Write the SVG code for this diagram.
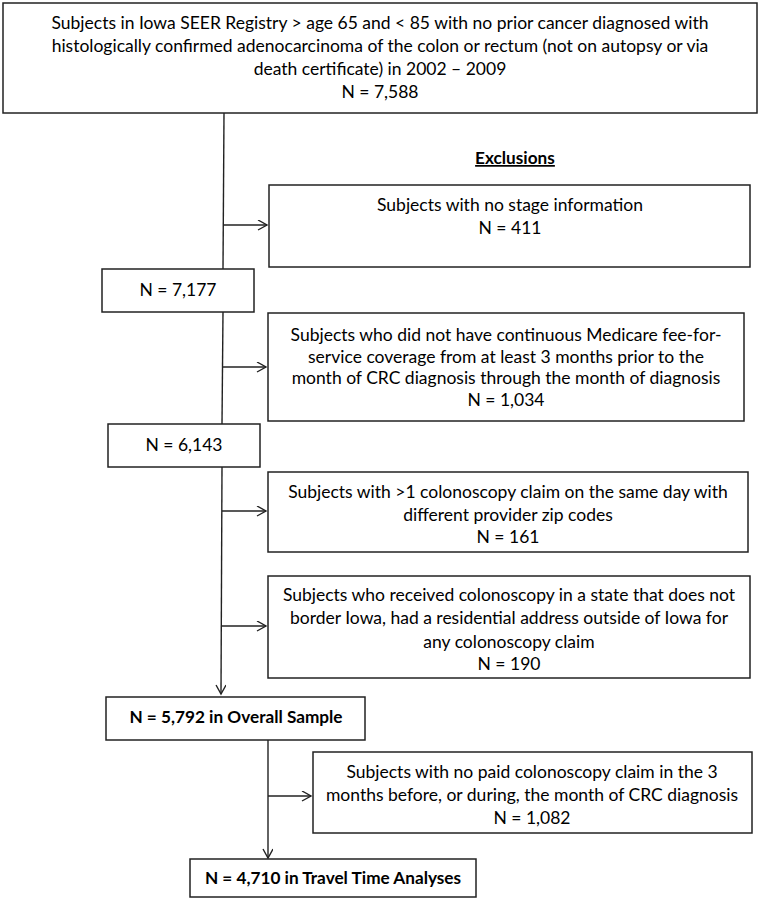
<svg xmlns="http://www.w3.org/2000/svg" width="759" height="900" viewBox="0 0 759 900">
<style>
.box{fill:#fff;stroke:#222;stroke-width:1.5}
.t{font-family:Lato,"Liberation Sans",sans-serif;font-size:17.5px;fill:#000;text-anchor:middle}
.b{font-weight:bold;font-size:17.2px}
.ln{stroke:#222;stroke-width:1.4;fill:none}
.ar{stroke:#222;stroke-width:1.4;fill:none;marker-end:url(#ah)}
</style>
<defs>
<marker id="ah" markerWidth="12" markerHeight="12" refX="10" refY="5" orient="auto" markerUnits="userSpaceOnUse">
<path d="M1,0 L10,5 L1,10" fill="none" stroke="#222" stroke-width="1.4"/>
</marker>
</defs>
<rect width="759" height="900" fill="#fff"/>
<g id="connectors">
<line class="ln" x1="224" y1="113" x2="223" y2="269"/>
<line class="ar" x1="223.5" y1="225" x2="267" y2="225"/>
<line class="ln" x1="223" y1="312" x2="222" y2="424"/>
<line class="ar" x1="223" y1="367" x2="266" y2="367"/>
<line class="ar" x1="222" y1="467" x2="221" y2="694"/>
<line class="ar" x1="222" y1="511" x2="266" y2="511"/>
<line class="ar" x1="221.5" y1="626" x2="266" y2="626"/>
<line class="ar" x1="268" y1="740" x2="268" y2="858"/>
<line class="ar" x1="268" y1="796" x2="311" y2="796"/>
</g>
<g id="n_start">
<rect class="box" x="3" y="3" width="754" height="110"/>
<text class="t" x="380" y="29">Subjects in Iowa SEER Registry &gt; age 65 and &lt; 85 with no prior cancer diagnosed with</text>
<text class="t" x="380" y="52">histologically confirmed adenocarcinoma of the colon or rectum (not on autopsy or via</text>
<text class="t" x="380" y="75">death certificate) in 2002 – 2009</text>
<text class="t" x="380" y="98">N = 7,588</text>
</g>
<g id="exclusions_label">
<text class="t b" x="515" y="164" text-decoration="underline">Exclusions</text>
</g>
<g id="x_stage">
<rect class="box" x="269" y="185" width="481" height="82"/>
<text class="t" x="510" y="211">Subjects with no stage information</text>
<text class="t" x="510" y="234">N = 411</text>
</g>
<g id="n_7177">
<rect class="box" x="102" y="269" width="152" height="43"/>
<text class="t" x="178" y="296">N = 7,177</text>
</g>
<g id="x_medicare">
<rect class="box" x="268" y="313" width="476" height="108"/>
<text class="t" x="506" y="341">Subjects who did not have continuous Medicare fee-for-</text>
<text class="t" x="506" y="363">service coverage from at least 3 months prior to the</text>
<text class="t" x="506" y="384">month of CRC diagnosis through the month of diagnosis</text>
<text class="t" x="506" y="406">N = 1,034</text>
</g>
<g id="n_6143">
<rect class="box" x="108" y="424" width="152" height="43"/>
<text class="t" x="184" y="451">N = 6,143</text>
</g>
<g id="x_zip">
<rect class="box" x="268" y="472" width="480" height="80"/>
<text class="t" x="508" y="498">Subjects with &gt;1 colonoscopy claim on the same day with</text>
<text class="t" x="508" y="521">different provider zip codes</text>
<text class="t" x="508" y="543">N = 161</text>
</g>
<g id="x_border">
<rect class="box" x="268" y="576" width="482" height="102"/>
<text class="t" x="509" y="601">Subjects who received colonoscopy in a state that does not</text>
<text class="t" x="509" y="624">border Iowa, had a residential address outside of Iowa for</text>
<text class="t" x="509" y="648">any colonoscopy claim</text>
<text class="t" x="509" y="670">N = 190</text>
</g>
<g id="n_overall">
<rect class="box" x="106" y="697" width="259" height="43"/>
<text class="t b" x="236" y="723">N = 5,792 in Overall Sample</text>
</g>
<g id="x_paid">
<rect class="box" x="313" y="752" width="439" height="81"/>
<text class="t" x="532" y="778">Subjects with no paid colonoscopy claim in the 3</text>
<text class="t" x="532" y="801">months before, or during, the month of CRC diagnosis</text>
<text class="t" x="532" y="824">N = 1,082</text>
</g>
<g id="n_travel">
<rect class="box" x="190" y="859" width="286" height="38"/>
<text class="t b" x="333" y="884">N = 4,710 in Travel Time Analyses</text>
</g>
</svg>
